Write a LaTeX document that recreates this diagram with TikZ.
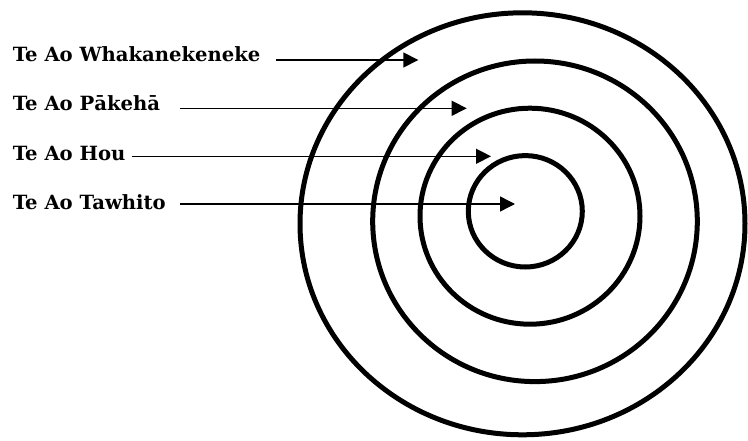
\documentclass[tikz,border=0pt]{standalone}
\usepackage{fontspec}
\setmainfont{DejaVu Serif}
\usetikzlibrary{arrows.meta}
\begin{document}
\begin{tikzpicture}[x=1pt,y=-1pt,
  ring/.style={line width=5pt},
  lbl/.style={anchor=base west,inner sep=0pt,font=\bfseries\fontsize{19.6}{22}\selectfont},
  ptr/.style={line width=1.4pt,-{Triangle[length=15pt,width=15pt]}}]
\useasboundingbox (0,0) rectangle (748,441);
\draw[ring] (522.5,223.8) ellipse [x radius=222.5, y radius=211];
\draw[ring] (535,221.3) ellipse [x radius=162.3, y radius=160.3];
\draw[ring] (530,216.2) ellipse [x radius=110, y radius=108];
\draw[ring] (525.3,211.3) ellipse [x radius=57, y radius=55.7];
\node[lbl] (l1) at (12.7,62) {Te Ao Whakanekeneke};
\node[lbl] (l2) at (12.7,111) {Te Ao Pākehā};
\node[lbl] (l3) at (12.7,160.5) {Te Ao Hou};
\node[lbl] (l4) at (12.7,209.5) {Te Ao Tawhito};
\coordinate (s1) at (276,60);
\coordinate (t1) at (418.3,60);
\coordinate (s2) at (180,108.3);
\coordinate (t2) at (466.7,108.3);
\coordinate (s3) at (131.7,156.3);
\coordinate (t3) at (491,156.3);
\coordinate (s4) at (180,204);
\coordinate (t4) at (515,204);
\draw[ptr] (s1) -- (t1);
\draw[ptr] (s2) -- (t2);
\draw[ptr] (s3) -- (t3);
\draw[ptr] (s4) -- (t4);
\end{tikzpicture}
\end{document}
